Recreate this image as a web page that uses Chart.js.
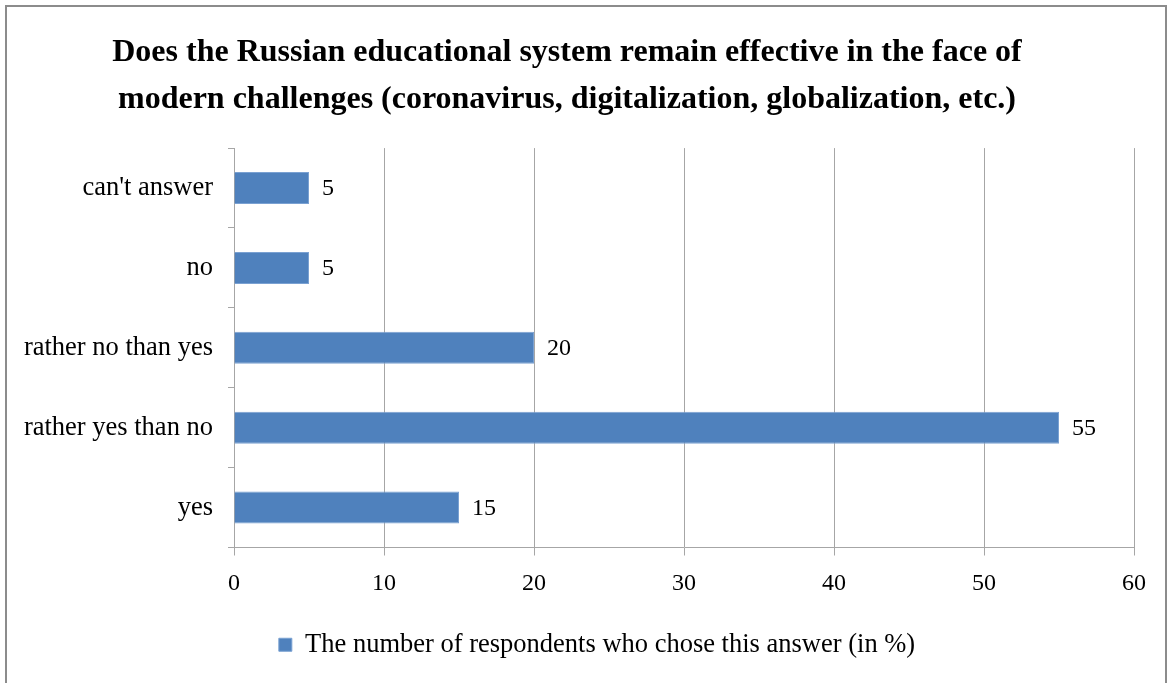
<!DOCTYPE html>
<html>
<head>
<meta charset="utf-8">
<script src="https://cdn.jsdelivr.net/npm/chart.js@4.4.1/dist/chart.umd.min.js"></script>
<style>
	html, body { margin: 0; padding: 0; background: #fff; overflow: hidden; }
	#wrap { position: relative; width: 1169px; height: 683px; }
	#frame {
		position: absolute; left: 5px; top: 5px; width: 1158px; height: 720px;
		border: 2px solid #8c8c8c;
	}
	canvas { position: absolute; left: 0; top: 0; }
</style>
</head>
<body>
<div id="wrap">
	<div id="frame"></div>
	<canvas id="answersChart" width="1169" height="683"></canvas>
</div>
<script>
// Ответы респондентов (сверху вниз)
const answers = ["can't answer", 'no', 'rather no than yes', 'rather yes than no', 'yes']
const percents = [5, 5, 20, 55, 15]
const xTicks = [0, 10, 20, 30, 40, 50, 60]

const seriesName = 'The number of respondents who chose this answer (in %)'
const titleLines = [
	'Does the Russian educational system remain effective in the face of',
	'modern challenges (coronavirus, digitalization, globalization, etc.)',
]
const serif = "'Liberation Serif', 'Times New Roman', serif"

// Подписи значений справа от столбцов
const valueLabels = {
	id: 'valueLabels',
	afterDatasetsDraw(chart) {
		const ctx = chart.ctx
		const meta = chart.getDatasetMeta(0)
		ctx.save()
		ctx.font = '24px ' + serif
		ctx.fillStyle = '#000'
		ctx.textAlign = 'left'
		ctx.textBaseline = 'middle'
		meta.data.forEach((bar, i) => {
			ctx.fillText(String(percents[i]), bar.x + 13, bar.y + 1)
		})
		ctx.restore()
	},
}

// Легенда центрируется по всей ширине, а не по области до правого отступа
const legendShift = {
	id: 'legendShift',
	afterLayout(chart) {
		chart.legend.left += 30
		chart.legend.right += 30
	},
}

new Chart(document.getElementById('answersChart').getContext('2d'), {
	type: 'bar',
	data: {
		labels: answers,
		datasets: [
			{
				label: seriesName,
				data: percents,
				backgroundColor: '#4f81bd',
				borderColor: '#7aa1d2',
				borderWidth: 1,
				categoryPercentage: 1,
				barPercentage: 0.4,
			},
		],
	},
	options: {
		indexAxis: 'y',
		responsive: false,
		animation: false,
		layout: { padding: { left: 0, right: 35, top: 29, bottom: 15 } },
		scales: {
			x: {
				min: 0,
				max: 60,
				afterBuildTicks: scale => {
					scale.ticks = xTicks.map(v => ({ value: v }))
				},
				afterFit: scale => {
					scale.height = 64
				},
				grid: { color: '#a6a6a6', lineWidth: 1, tickLength: 8 },
				border: { color: '#a6a6a6', width: 1 },
				ticks: { color: '#000', font: { family: serif, size: 24 }, padding: 14 },
			},
			y: {
				afterFit: scale => {
					scale.width = 234
				},
				grid: {
					offset: true,
					drawOnChartArea: false,
					color: '#a6a6a6',
					tickLength: 6,
				},
				border: { color: '#a6a6a6', width: 1 },
				ticks: { color: '#000', font: { family: serif, size: 26.5 }, padding: 15 },
			},
		},
		plugins: {
			title: {
				display: true,
				text: titleLines,
				color: '#000',
				font: { family: serif, size: 32, weight: 'bold', lineHeight: 1.47 },
				padding: { top: 0, bottom: 25 },
			},
			legend: {
				position: 'bottom',
				labels: {
					color: '#000',
					font: { family: serif, size: 26.5 },
					boxWidth: 13,
					boxHeight: 13,
					padding: 20,
				},
			},
			tooltip: { enabled: false },
		},
	},
	plugins: [valueLabels, legendShift],
})
</script>
</body>
</html>
